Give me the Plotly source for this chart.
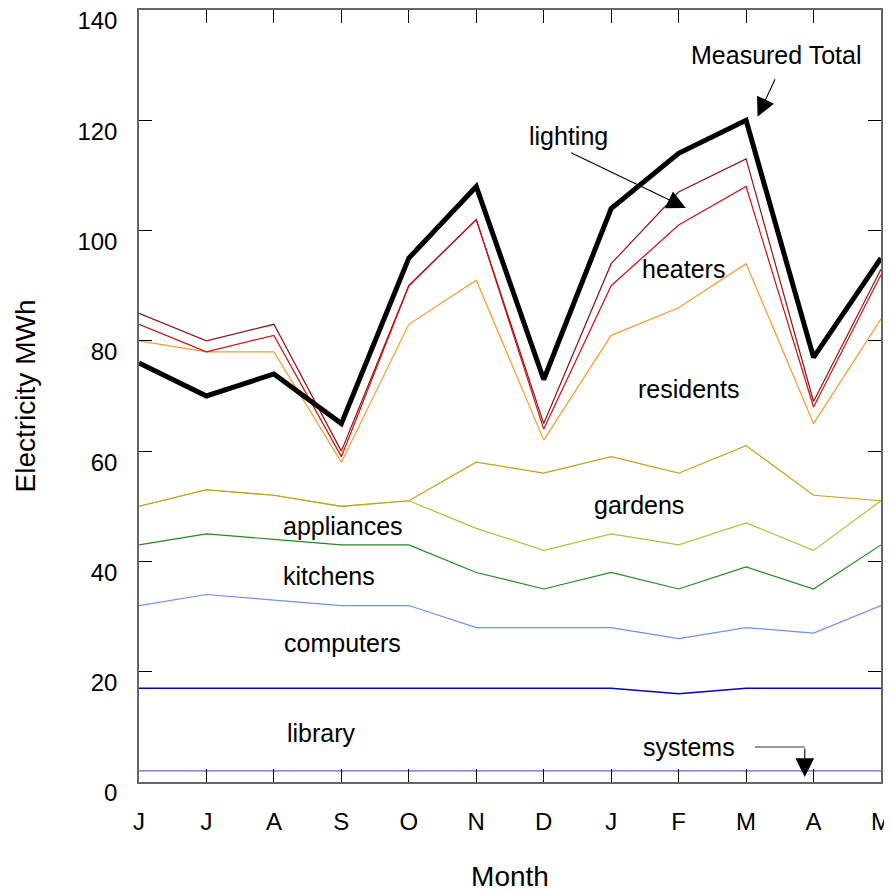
import plotly.graph_objects as go

months = ["J", "J", "A", "S", "O", "N", "D", "J", "F", "M", "A", "M"]
xpos = list(range(len(months)))
y_ticks = [0, 20, 40, 60, 80, 100, 120, 140]

# cumulative (stacked) series, bottom to top
systems = [2, 2, 2, 2, 2, 2, 2, 2, 2, 2, 2, 2]
library = [17, 17, 17, 17, 17, 17, 17, 17, 16, 17, 17, 17]
computers = [32, 34, 33, 32, 32, 28, 28, 28, 26, 28, 27, 32]
kitchens = [43, 45, 44, 43, 43, 38, 35, 38, 35, 39, 35, 43]
appliances = [50, 53, 52, 50, 51, 46, 42, 45, 43, 47, 42, 51]
gardens = [50, 53, 52, 50, 51, 58, 56, 59, 56, 61, 52, 51]
residents = [80, 78, 78, 58, 83, 91, 62, 81, 86, 94, 65, 84]
lighting = [85, 80, 83, 60, 90, 102, 65, 94, 107, 113, 69, 93]
heaters = [83, 78, 81, 59, 90, 102, 64, 90, 101, 108, 68, 92]
measured_total = [76, 70, 74, 65, 95, 108, 73, 104, 114, 120, 77, 95]

FONT = "Liberation Sans, Arial, sans-serif"

series = [
    ("systems", systems, "#6a5fd0", 1.2),
    ("library", library, "#0000cc", 1.3),
    ("computers", computers, "#6f8fff", 1.2),
    ("kitchens", kitchens, "#1e8c1e", 1.2),
    ("appliances", appliances, "#a8c43c", 1.2),
    ("gardens", gardens, "#c8a014", 1.2),
    ("residents", residents, "#ff9933", 1.2),
    ("lighting", lighting, "#8b1414", 1.2),
    ("heaters", heaters, "#cc1111", 1.2),
    ("Measured Total", measured_total, "#000000", 5),
]

fig = go.Figure()
for name, vals, color, w in series:
    fig.add_trace(go.Scatter(x=xpos, y=vals, mode="lines", name=name,
                             line=dict(color=color, width=w),
                             showlegend=False))

labels = [
    ("heaters", 8.07, 93.1),
    ("residents", 8.15, 71.3),
    ("gardens", 7.41, 50.2),
    ("appliances", 3.03, 46.4),
    ("kitchens", 2.82, 37.4),
    ("computers", 3.01, 25.2),
    ("library", 2.70, 8.9),
    ("systems", 8.15, 6.3),
    ("lighting", 6.37, 117.1),
    ("Measured Total", 9.44, 131.8),
]
annotations = []
for t, x, y in labels:
    annotations.append(dict(x=x, y=y, xref="x", yref="y", text=t, showarrow=False,
                            font=dict(family=FONT, size=25, color="#000000")))

# arrows
arrows = [
    (8.106, 104.1, 6.384, 114.25),
    (9.17, 120.66, 9.44, 127.7),
    (9.87, 0.9, 9.87, 6.35),
]
for x, y, ax, ay in arrows:
    annotations.append(dict(x=x, y=y, ax=ax, ay=ay, xref="x", yref="y",
                            axref="x", ayref="y", text="", showarrow=True,
                            arrowhead=2, arrowsize=3.4, arrowwidth=1.1,
                            arrowcolor="#000000", standoff=0, startstandoff=0))

fig.add_shape(type="line", x0=9.13, x1=9.87, y0=6.35, y1=6.35, xref="x", yref="y",
              line=dict(color="#333333", width=1.1))

fig.update_layout(
    width=884, height=884,
    margin=dict(l=131, r=11, t=2, b=110, autoexpand=False),
    paper_bgcolor="white", plot_bgcolor="white",
    font=dict(family=FONT, size=24, color="#000000"),
    annotations=annotations,
)
fig.update_xaxes(
    range=[0, 11], tickvals=xpos, ticktext=months, automargin=False,
    ticks="inside", ticklen=13, tickcolor="#000000", tickwidth=1,
    showline=True, linecolor="#666666", linewidth=1.5, mirror="ticks",
    showgrid=False, zeroline=False,
    tickfont=dict(family=FONT, size=24), ticklabelstandoff=17,
    ticklabeloverflow="allow",
    title=dict(text="Month", font=dict(family=FONT, size=28), standoff=36),
)
fig.update_yaxes(
    range=[0, 140], tickvals=y_ticks, automargin=False,
    ticks="inside", ticklen=13, tickcolor="#000000", tickwidth=1,
    showline=True, linecolor="#666666", linewidth=1.5, mirror="ticks",
    showgrid=False, zeroline=False,
    tickfont=dict(family=FONT, size=24), ticklabelstandoff=15, ticklabelshift=11,
    ticklabeloverflow="allow",
    title=dict(text="Electricity MWh", font=dict(family=FONT, size=28), standoff=34),
)

fig.write_html("out.html")
